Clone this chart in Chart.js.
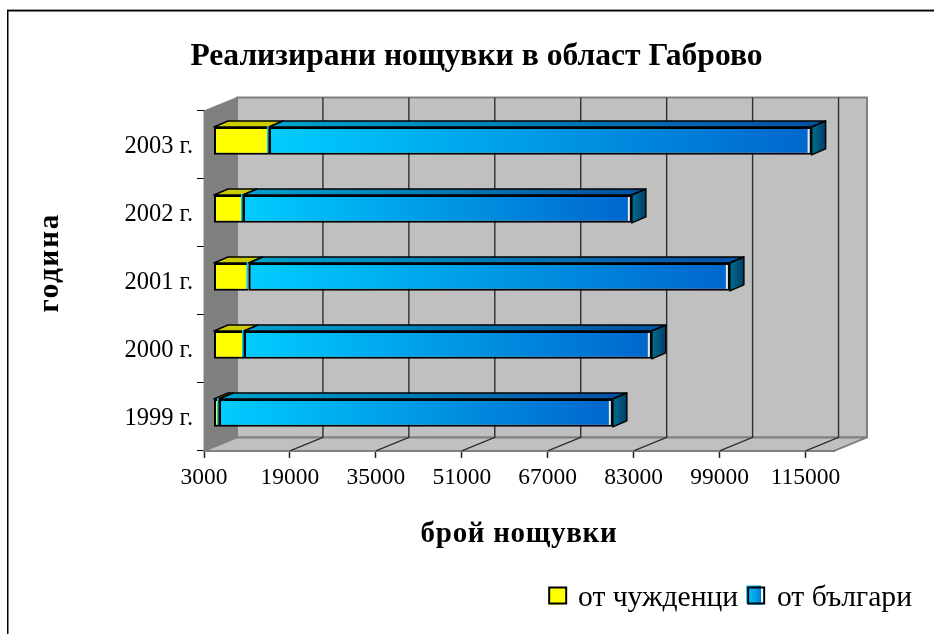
<!DOCTYPE html>
<html>
<head>
<meta charset="utf-8">
<style>
  html, body { margin: 0; padding: 0; background: #fff; }
  canvas { display: block; }
</style>
<script src="https://cdn.jsdelivr.net/npm/chart.js@4"></script>
</head>
<body>
<canvas id="chart" width="934" height="634"></canvas>
<script>
// Data
var years = ['1999 г.', '2000 г.', '2001 г.', '2002 г.', '2003 г.'];
var foreigners = [3930, 8590, 9460, 8400, 13240];
var bulgarians = [73330, 75930, 89590, 72400, 101030];
var tickValues = [3000, 19000, 35000, 51000, 67000, 83000, 99000, 115000];

var serif = '"Liberation Serif", serif';

// depth of the walls and of the bars, the way Excel draws its 3D bars
var wallDx = 33, wallDy = -13.5;
var barShiftX = 10, barShiftY = -4;
var barDx = 14, barDy = -6;

function barGradient(ctx, x0, x1, from, to) {
  var g = ctx.createLinearGradient(x0, 0, x1, 0);
  g.addColorStop(0, from);
  g.addColorStop(1, to);
  return g;
}

function poly(ctx, pts, fill, stroke, lw) {
  ctx.beginPath();
  ctx.moveTo(pts[0][0], pts[0][1]);
  for (var i = 1; i < pts.length; i++) ctx.lineTo(pts[i][0], pts[i][1]);
  ctx.closePath();
  if (fill) { ctx.fillStyle = fill; ctx.fill(); }
  if (stroke) { ctx.strokeStyle = stroke; ctx.lineWidth = lw; ctx.lineJoin = 'round'; ctx.stroke(); }
}

// axis titles are a bit wider in the reference than the font alone gives
function spaced(obj, name, px) {
  var f = obj[name];
  obj[name] = function() {
    var c = this.ctx;
    c.save();
    c.letterSpacing = px;
    f.apply(this, arguments);
    c.restore();
  };
}

var box3d = {
  id: 'box3d',
  afterDatasetsUpdate: function(chart) {
    // first part of each bar starts at the axis minimum, not at zero
    chart.getDatasetMeta(0).data.forEach(function(bar) {
      bar.base = chart.scales.x.left;
    });
  },
  afterLayout: function(chart) {
    // title and legend do not sit where the layout puts them
    chart.titleBlock.left = 19;
    chart.titleBlock.right = 934;
    var lg = chart.legend;
    lg.right = 922;
    lg.left = 400;
    lg.top = 573;
    lg.bottom = 622;
    lg.adjustHitBoxes();
    spaced(chart.scales.x, 'drawTitle', '0.7px');
    spaced(chart.scales.y, 'drawTitle', '1.8px');
  },
  beforeDraw: function(chart) {
    var ctx = chart.ctx;
    ctx.save();
    ctx.fillStyle = '#fff';
    ctx.fillRect(0, 0, chart.width, chart.height);
    ctx.fillStyle = '#999';
    ctx.fillRect(7, 9, 927, 1);
    ctx.fillStyle = '#000';
    ctx.fillRect(7, 10, 927, 1.5);
    ctx.fillRect(7, 10, 1.5, 624);
    ctx.restore();
  },
  beforeDatasetsDraw: function(chart) {
    var ctx = chart.ctx, a = chart.chartArea, xs = chart.scales.x;
    var l = a.left, r = a.right, t = a.top, b = a.bottom;
    ctx.save();
    // back wall, side wall, floor
    poly(ctx, [[l + wallDx, t + wallDy], [r + wallDx, t + wallDy], [r + wallDx, b + wallDy], [l + wallDx, b + wallDy]], '#c0c0c0', '#808080', 2);
    poly(ctx, [[l, t], [l + wallDx, t + wallDy], [l + wallDx, b + wallDy], [l, b]], '#808080', '#808080', 1);
    poly(ctx, [[l, b], [l + wallDx, b + wallDy], [r + wallDx, b + wallDy], [r, b]], '#c0c0c0', '#808080', 2);
    // grid lines on the back wall and the floor
    ctx.strokeStyle = '#303030';
    ctx.lineWidth = 1.4;
    tickValues.forEach(function(v, i) {
      if (i === 0) return;
      var x = xs.getPixelForValue(v);
      ctx.beginPath();
      ctx.moveTo(x, b);
      ctx.lineTo(x + wallDx, b + wallDy);
      ctx.lineTo(x + wallDx, t + wallDy);
      ctx.stroke();
    });
    // the bars sit inside the box, so everything below is shifted
    ctx.translate(barShiftX, barShiftY);
    chart.data.datasets.forEach(function(ds, di) {
      chart.getDatasetMeta(di).data.forEach(function(bar) {
        var x0 = bar.base, x1 = bar.x, y0 = bar.y - bar.height / 2, y1 = bar.y + bar.height / 2;
        var top = [[x0, y0], [x0 + barDx, y0 + barDy], [x1 + barDx, y0 + barDy], [x1, y0]];
        if (di === 0) {
          poly(ctx, top, '#cccc00', '#000', 1.5);
        } else {
          poly(ctx, top, barGradient(ctx, x0, x1, '#00a3cc', '#0052a3'), '#000', 1.5);
          poly(ctx, [[x1, y0], [x1 + barDx, y0 + barDy], [x1 + barDx, y1 + barDy], [x1, y1]],
            barGradient(ctx, x1, x1 + barDx, '#006f8f', '#003d66'), '#000', 1.5);
        }
      });
    });
    ctx.restore();
    ctx.save();
    ctx.translate(barShiftX, barShiftY);
  },
  afterDatasetsDraw: function(chart) {
    var ctx = chart.ctx;
    // light edges just inside the bulgarian part
    chart.getDatasetMeta(1).data.forEach(function(bar) {
      var y0 = bar.y - bar.height / 2 + 2, y1 = bar.y + bar.height / 2 - 2;
      ctx.fillStyle = '#00ccff';
      ctx.fillRect(bar.base - 2, y0 - 3, 1.5, y1 - y0 + 3);
      ctx.fillStyle = '#e8e8e8';
      ctx.fillRect(bar.x - 4, y0, 2, y1 - y0);
    });
    ctx.restore();
  },
  afterDraw: function(chart) {
    // legend keys drawn over the native ones, same place but square
    var ctx = chart.ctx, hb = chart.legend.legendHitBoxes;
    var y = chart.legend.top + 13.5;
    ctx.save();
    ctx.strokeStyle = '#000';
    ctx.lineWidth = 2;
    ctx.fillStyle = '#ffff00';
    ctx.fillRect(hb[0].left, y + 1, 17, 16);
    ctx.strokeRect(hb[0].left, y + 1, 17, 16);
    var x = hb[1].left - 1;
    ctx.fillStyle = barGradient(ctx, x, x + 18, '#00ccff', '#0066cc');
    ctx.fillRect(x - 1, y - 1, 15, 18);
    ctx.fillStyle = '#fff';
    ctx.fillRect(x + 14, y + 1, 3, 15);
    ctx.strokeRect(x + 1, y + 1, 16, 16);
    ctx.restore();
  }
};

var chart = new Chart(document.getElementById('chart').getContext('2d'), {
  type: 'bar',
  data: {
    labels: years,
    datasets: [
      { label: 'от чужденци', data: foreigners, backgroundColor: '#ffff00', clip: false },
      {
        label: 'от българи',
        data: bulgarians,
        clip: false,
        backgroundColor: function(c) {
          var xs = c.chart.scales.x;
          if (!xs || c.dataIndex === undefined) return '#00ccff';
          var from = xs.getPixelForValue(foreigners[c.dataIndex]);
          var to = xs.getPixelForValue(foreigners[c.dataIndex] + bulgarians[c.dataIndex]);
          return barGradient(c.chart.ctx, from, to, '#00ccff', '#0066cc');
        }
      }
    ]
  },
  options: {
    indexAxis: 'y',
    responsive: false,
    animation: false,
    layout: { padding: { left: 0, right: 100, top: 0, bottom: 0 } },
    datasets: {
      bar: {
        categoryPercentage: 1,
        barPercentage: 0.41,
        borderColor: '#000',
        borderWidth: 2,
        borderSkipped: false
      }
    },
    scales: {
      x: {
        stacked: true,
        min: 3000,
        max: 120300,
        afterBuildTicks: function(s) {
          s.ticks = tickValues.map(function(v) { return { value: v }; });
        },
        afterFit: function(s) { s.height = 133.5; },
        grid: { drawOnChartArea: false, drawTicks: true, tickLength: 7, tickColor: '#202020', tickWidth: 1.5 },
        border: { color: '#303030', width: 2 },
        ticks: {
          autoSkip: false, maxRotation: 0, padding: 6, color: '#000',
          font: { family: serif, size: 23.5 },
          callback: function(v) { return String(v); }
        },
        title: {
          display: true, text: 'брой нощувки', color: '#000',
          font: { family: serif, size: 29, weight: 'bold' },
          padding: { top: 0, bottom: 32 }
        }
      },
      y: {
        stacked: true,
        reverse: true,
        afterFit: function(s) { s.width = 204; },
        grid: { offset: true, drawOnChartArea: false, drawTicks: true, tickLength: 7, tickColor: '#000', tickWidth: 1 },
        border: { color: '#000', width: 1 },
        ticks: {
          padding: 4, labelOffset: 2, color: '#000',
          font: { family: serif, size: 24.5 }
        },
        title: {
          display: true, text: '    година', color: '#000',
          font: { family: serif, size: 29, weight: 'bold' },
          padding: { top: 33, bottom: 0 }
        }
      }
    },
    plugins: {
      title: {
        display: true,
        text: 'Реализирани нощувки в област Габрово',
        color: '#000',
        font: { family: serif, size: 31.6, weight: 'bold' },
        padding: { top: 38, bottom: 35 }
      },
      legend: {
        position: 'bottom',
        align: 'end',
        labels: {
          color: '#000',
          boxWidth: 14,
          boxHeight: 14,
          padding: 10,
          font: { family: serif, size: 29.6 },
          generateLabels: function(c) {
            return c.data.datasets.map(function(d, i) {
              return { text: d.label, fillStyle: i ? '#00ccff' : '#ffff00', strokeStyle: '#000', lineWidth: 0, datasetIndex: i };
            });
          }
        }
      },
      tooltip: { enabled: false }
    }
  },
  plugins: [box3d]
});
</script>
</body>
</html>
